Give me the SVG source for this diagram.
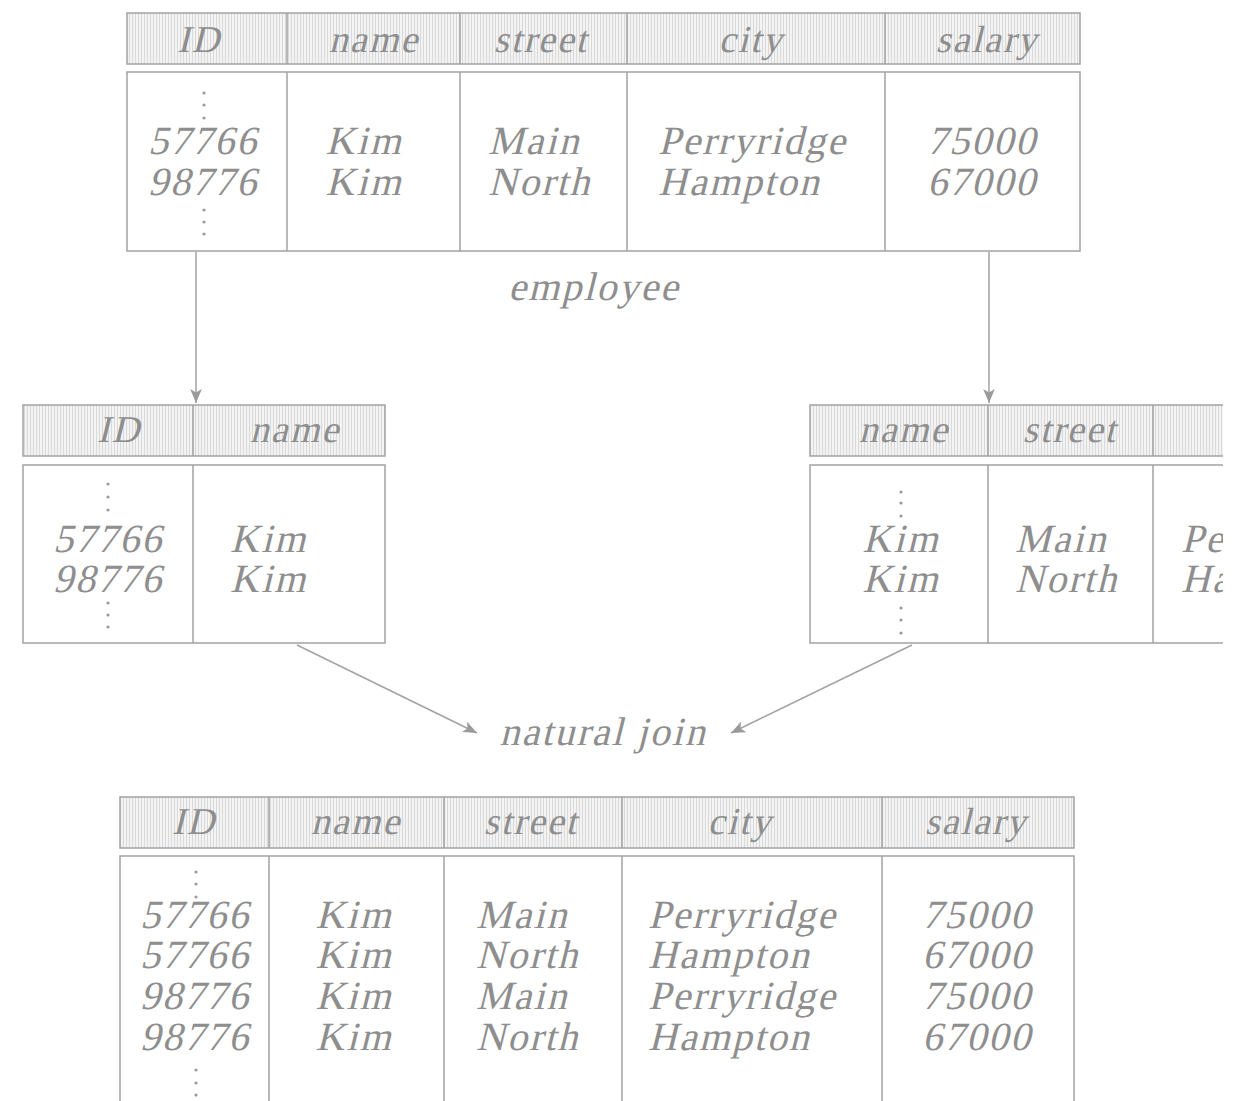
<svg xmlns="http://www.w3.org/2000/svg" width="1241" height="1101" viewBox="0 0 1241 1101">
<style>
.t{font-family:"Liberation Serif","Times New Roman",serif;font-style:normal;fill:#8e8e8e;font-size:40px;letter-spacing:2px}
.h{font-size:38px}
.c{text-anchor:middle}
.hdr{fill:url(#hatch);stroke:#a2a2a2;stroke-width:1.5}
.body{fill:#fff;stroke:#a2a2a2;stroke-width:1.5}
.div{stroke:#a2a2a2;stroke-width:1.5}
.dot{fill:#9a9a9a}
.conn{stroke:#a2a2a2;stroke-width:1.5;fill:none;marker-end:url(#arr)}
</style>
<defs>
<pattern id="hatch" width="3" height="4" patternUnits="userSpaceOnUse">
<rect width="3" height="4" fill="#f3f3f3"/>
<rect width="1" height="4" fill="#d9d9d9"/>
</pattern>
<marker id="arr" viewBox="0 0 12 10" refX="12" refY="5" markerWidth="14" markerHeight="12" markerUnits="userSpaceOnUse" orient="auto">
<path d="M0,0 L12,5 L0,10 L3,5 z" fill="#9a9a9a"/>
</marker>
<clipPath id="clipR"><rect x="0" y="0" width="1223" height="1101"/></clipPath>
</defs>
<rect width="1241" height="1101" fill="#fff"/>

<g id="employee">
<rect class="hdr" x="127" y="13" width="953" height="51"/>
<line class="div" x1="287" y1="13" x2="287" y2="64"/>
<line class="div" x1="460" y1="13" x2="460" y2="64"/>
<line class="div" x1="627" y1="13" x2="627" y2="64"/>
<line class="div" x1="885" y1="13" x2="885" y2="64"/>
<text class="t h c" transform="translate(199,52) skewX(-14)">ID</text>
<text class="t h c" transform="translate(374,52) skewX(-14)">name</text>
<text class="t h c" transform="translate(541,52) skewX(-14)">street</text>
<text class="t h c" transform="translate(751,52) skewX(-14)">city</text>
<text class="t h c" transform="translate(987,52) skewX(-14)">salary</text>
<rect class="body" x="127" y="72" width="953" height="179"/>
<line class="div" x1="287" y1="72" x2="287" y2="251"/>
<line class="div" x1="460" y1="72" x2="460" y2="251"/>
<line class="div" x1="627" y1="72" x2="627" y2="251"/>
<line class="div" x1="885" y1="72" x2="885" y2="251"/>
<circle class="dot" cx="204" cy="93" r="1.6"/><circle class="dot" cx="204" cy="105" r="1.6"/><circle class="dot" cx="204" cy="118" r="1.6"/>
<circle class="dot" cx="204" cy="210" r="1.6"/><circle class="dot" cx="204" cy="222" r="1.6"/><circle class="dot" cx="204" cy="234" r="1.6"/>
<text class="t c" transform="translate(203,154) skewX(-14)">57766</text>
<text class="t c" transform="translate(203,195) skewX(-14)">98776</text>
<text class="t c" transform="translate(364,154) skewX(-14)">Kim</text>
<text class="t c" transform="translate(364,195) skewX(-14)">Kim</text>
<text class="t" transform="translate(488,154) skewX(-14)">Main</text>
<text class="t" transform="translate(488,195) skewX(-14)">North</text>
<text class="t" transform="translate(658,154) skewX(-14)">Perryridge</text>
<text class="t" transform="translate(658,195) skewX(-14)">Hampton</text>
<text class="t c" transform="translate(982,154) skewX(-14)">75000</text>
<text class="t c" transform="translate(982,195) skewX(-14)">67000</text>
<text class="t c" transform="translate(594,300) skewX(-14)">employee</text>
</g>

<g id="proj-id-name">
<rect class="hdr" x="23" y="405" width="362" height="51"/>
<line class="div" x1="193" y1="405" x2="193" y2="456"/>
<text class="t h c" transform="translate(119,442) skewX(-14)">ID</text>
<text class="t h c" transform="translate(295,442) skewX(-14)">name</text>
<rect class="body" x="23" y="465" width="362" height="178"/>
<line class="div" x1="193" y1="465" x2="193" y2="643"/>
<circle class="dot" cx="108" cy="484" r="1.6"/><circle class="dot" cx="108" cy="497" r="1.6"/><circle class="dot" cx="108" cy="510" r="1.6"/>
<circle class="dot" cx="108" cy="603" r="1.6"/><circle class="dot" cx="108" cy="615" r="1.6"/><circle class="dot" cx="108" cy="627" r="1.6"/>
<text class="t c" transform="translate(108,552) skewX(-14)">57766</text>
<text class="t c" transform="translate(108,592) skewX(-14)">98776</text>
<text class="t" transform="translate(230,552) skewX(-14)">Kim</text>
<text class="t" transform="translate(230,592) skewX(-14)">Kim</text>
</g>

<g id="proj-name-street" clip-path="url(#clipR)">
<rect class="hdr" x="810" y="405" width="440" height="51"/>
<line class="div" x1="988" y1="405" x2="988" y2="456"/>
<line class="div" x1="1153" y1="405" x2="1153" y2="456"/>
<text class="t h c" transform="translate(904,442) skewX(-14)">name</text>
<text class="t h c" transform="translate(1070,442) skewX(-14)">street</text>
<rect class="body" x="810" y="465" width="440" height="178"/>
<line class="div" x1="988" y1="465" x2="988" y2="643"/>
<line class="div" x1="1153" y1="465" x2="1153" y2="643"/>
<circle class="dot" cx="901" cy="492" r="1.6"/><circle class="dot" cx="901" cy="503" r="1.6"/><circle class="dot" cx="901" cy="516" r="1.6"/>
<circle class="dot" cx="901" cy="608" r="1.6"/><circle class="dot" cx="901" cy="620" r="1.6"/><circle class="dot" cx="901" cy="633" r="1.6"/>
<text class="t c" transform="translate(901,552) skewX(-14)">Kim</text>
<text class="t c" transform="translate(901,592) skewX(-14)">Kim</text>
<text class="t" transform="translate(1015,552) skewX(-14)">Main</text>
<text class="t" transform="translate(1015,592) skewX(-14)">North</text>
<text class="t" transform="translate(1181,552) skewX(-14)">Perryridge</text>
<text class="t" transform="translate(1181,592) skewX(-14)">Hampton</text>
</g>

<g id="natural-join">
<text class="t c" transform="translate(603,745) skewX(-14)">natural join</text>
</g>

<g id="result">
<rect class="hdr" x="120" y="797" width="954" height="51"/>
<line class="div" x1="269" y1="797" x2="269" y2="848"/>
<line class="div" x1="444" y1="797" x2="444" y2="848"/>
<line class="div" x1="622" y1="797" x2="622" y2="848"/>
<line class="div" x1="882" y1="797" x2="882" y2="848"/>
<text class="t h c" transform="translate(194,834) skewX(-14)">ID</text>
<text class="t h c" transform="translate(356,834) skewX(-14)">name</text>
<text class="t h c" transform="translate(531,834) skewX(-14)">street</text>
<text class="t h c" transform="translate(740,834) skewX(-14)">city</text>
<text class="t h c" transform="translate(976,834) skewX(-14)">salary</text>
<rect class="body" x="120" y="856" width="954" height="260"/>
<line class="div" x1="269" y1="856" x2="269" y2="1101"/>
<line class="div" x1="444" y1="856" x2="444" y2="1101"/>
<line class="div" x1="622" y1="856" x2="622" y2="1101"/>
<line class="div" x1="882" y1="856" x2="882" y2="1101"/>
<circle class="dot" cx="196" cy="872" r="1.6"/><circle class="dot" cx="196" cy="884" r="1.6"/><circle class="dot" cx="196" cy="897" r="1.6"/>
<circle class="dot" cx="196" cy="1070" r="1.6"/><circle class="dot" cx="196" cy="1083" r="1.6"/><circle class="dot" cx="196" cy="1095" r="1.6"/>
<text class="t c" transform="translate(195,928) skewX(-14)">57766</text>
<text class="t c" transform="translate(195,968) skewX(-14)">57766</text>
<text class="t c" transform="translate(195,1009) skewX(-14)">98776</text>
<text class="t c" transform="translate(195,1050) skewX(-14)">98776</text>
<text class="t c" transform="translate(354,928) skewX(-14)">Kim</text>
<text class="t c" transform="translate(354,968) skewX(-14)">Kim</text>
<text class="t c" transform="translate(354,1009) skewX(-14)">Kim</text>
<text class="t c" transform="translate(354,1050) skewX(-14)">Kim</text>
<text class="t" transform="translate(476,928) skewX(-14)">Main</text>
<text class="t" transform="translate(476,968) skewX(-14)">North</text>
<text class="t" transform="translate(476,1009) skewX(-14)">Main</text>
<text class="t" transform="translate(476,1050) skewX(-14)">North</text>
<text class="t" transform="translate(648,928) skewX(-14)">Perryridge</text>
<text class="t" transform="translate(648,968) skewX(-14)">Hampton</text>
<text class="t" transform="translate(648,1009) skewX(-14)">Perryridge</text>
<text class="t" transform="translate(648,1050) skewX(-14)">Hampton</text>
<text class="t c" transform="translate(977,928) skewX(-14)">75000</text>
<text class="t c" transform="translate(977,968) skewX(-14)">67000</text>
<text class="t c" transform="translate(977,1009) skewX(-14)">75000</text>
<text class="t c" transform="translate(977,1050) skewX(-14)">67000</text>
</g>

<g id="connectors">
<line class="conn" x1="196" y1="252" x2="196" y2="403"/>
<line class="conn" x1="989" y1="252" x2="989" y2="403"/>
<line class="conn" x1="297" y1="645" x2="477" y2="733"/>
<line class="conn" x1="912" y1="645" x2="731" y2="733"/>
</g>
</svg>
